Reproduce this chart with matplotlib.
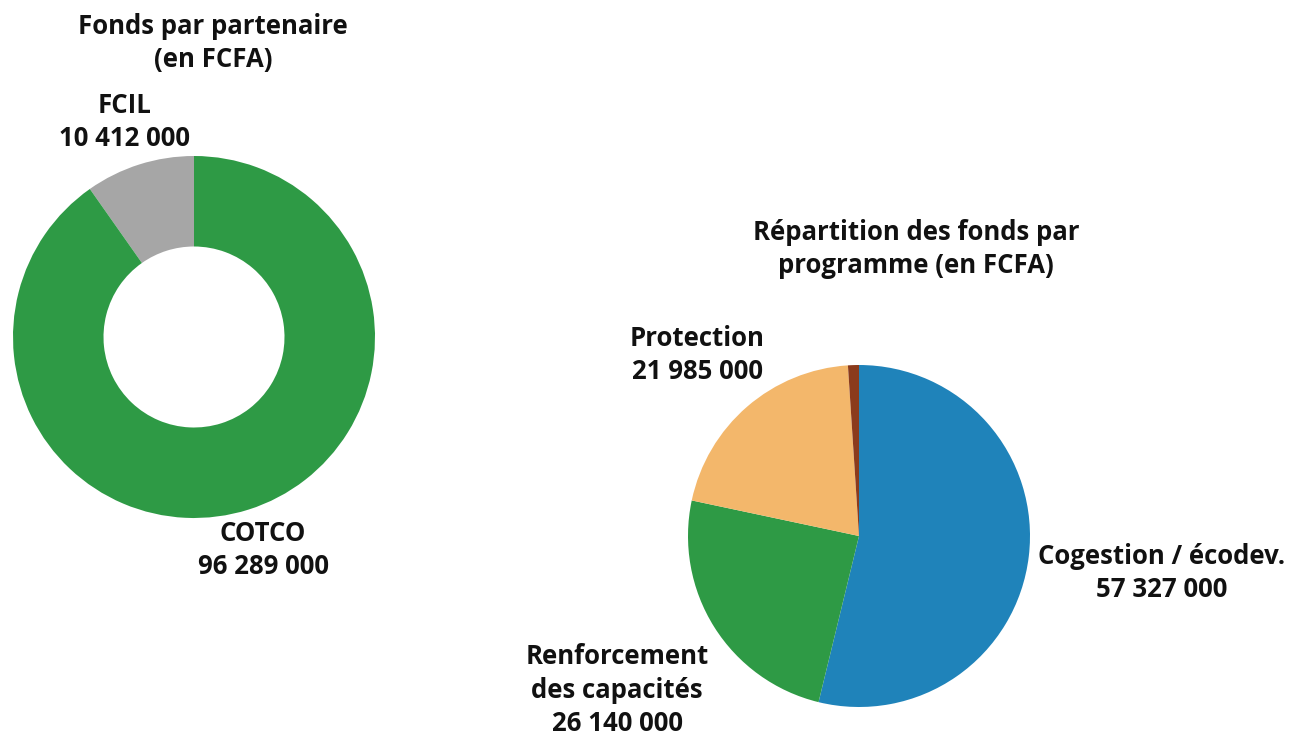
import matplotlib.pyplot as plt

plt.rcParams['font.family'] = ['Open Sans', 'DejaVu Sans']

# Fonds par partenaire (FCFA)
partners = ['FCIL', 'COTCO']
partner_values = [10412000, 96289000]
partner_colors = ['#A6A6A6', '#2E9A45']

# Répartition par programme (FCFA)
programs = ['Cogestion / écodev.', 'Renforcement\ndes capacités', 'Protection', 'Autre']
program_values = [57327000, 26140000, 21985000, 1100000]
program_colors = ['#1F83BA', '#2E9A45', '#F3B76B', '#8B3B1C']

W, H = 1297, 738


def fmt(v):
    return f"{v:,}".replace(",", " ")


def px_axes(fig, cx, cy, r):
    return fig.add_axes([(cx - r) / W, (H - cy - r) / H, 2 * r / W, 2 * r / H])


def ftext(fig, x, y, s, size=18.5):
    fig.text(x / W, 1 - y / H, s, ha='center', va='center',
             fontsize=size, fontweight='bold', color='#111111', linespacing=1.3)


fig = plt.figure(figsize=(W / 100, H / 100), dpi=100)

# donut
ax1 = px_axes(fig, 194, 337, 181)
ax1.pie(partner_values, colors=partner_colors, startangle=90, counterclock=True,
        wedgeprops=dict(width=0.5, edgecolor='none'))
ax1.set_xlim(-1, 1)
ax1.set_ylim(-1, 1)

ftext(fig, 213, 43, "Fonds par partenaire\n(en FCFA)")
ftext(fig, 125, 122, f"{partners[0]}\n{fmt(partner_values[0])}")
ftext(fig, 263, 550, f"{partners[1]}\n{fmt(partner_values[1])}")

# pie
ax2 = px_axes(fig, 859, 536, 171)
ax2.pie(program_values, colors=program_colors, startangle=90, counterclock=False,
        wedgeprops=dict(edgecolor='none'))
ax2.set_xlim(-1, 1)
ax2.set_ylim(-1, 1)

ftext(fig, 916, 249, "Répartition des fonds par\nprogramme (en FCFA)")
ftext(fig, 697, 355, f"{programs[2]}\n{fmt(program_values[2])}")
ftext(fig, 1162, 573, f"{programs[0]}\n{fmt(program_values[0])}")
ftext(fig, 617, 690, f"{programs[1]}\n{fmt(program_values[1])}")

fig.savefig('out.png', dpi=100, facecolor='white')
